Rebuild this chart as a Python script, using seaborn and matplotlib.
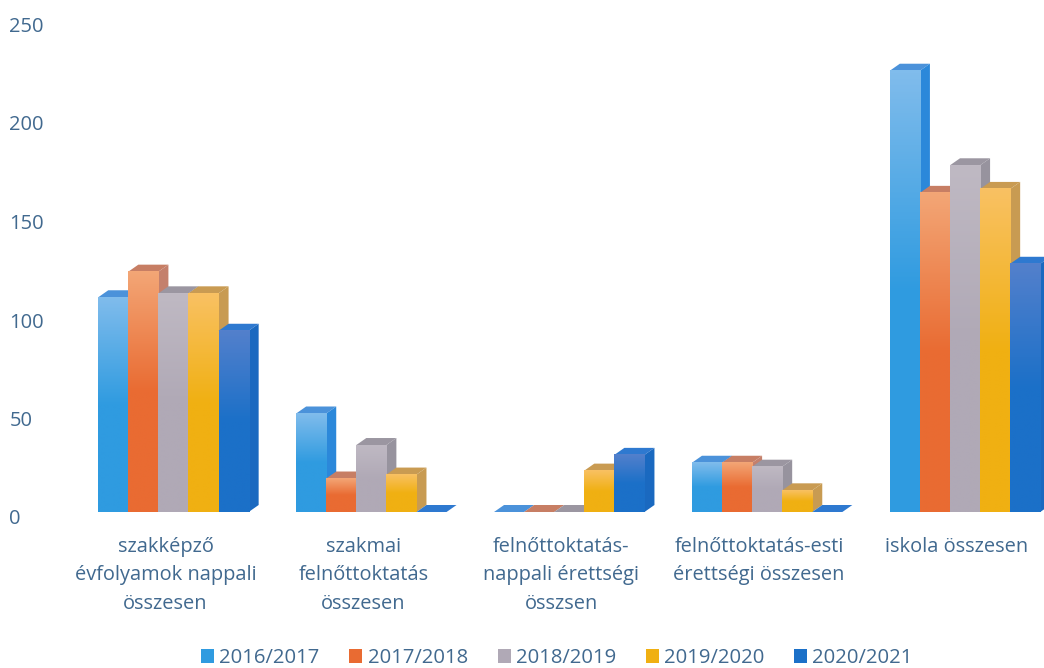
import numpy as np
import pandas as pd
import matplotlib
matplotlib.use("Agg")
import matplotlib.pyplot as plt
from matplotlib.colors import LinearSegmentedColormap
from matplotlib.patches import Polygon, Patch
from matplotlib.transforms import ScaledTranslation
import seaborn as sns

categories = ["szakképző\névfolyamok nappali\nösszesen", "szakmai\nfelnőttoktatás\nösszesen",
              "felnőttoktatás-\nnappali érettségi\nösszsen", "felnőttoktatás-esti\nérettségi összesen",
              "iskola összesen"]
years = ["2016/2017", "2017/2018", "2018/2019", "2019/2020", "2020/2021"]
v2016 = [109, 50, 0, 25, 224]
v2017 = [122, 17, 0, 25, 162]
v2018 = [111, 34, 0, 23, 176]
v2019 = [111, 19, 21, 11, 164]
v2020 = [92, 0, 29, 0, 126]
series = [v2016, v2017, v2018, v2019, v2020]

front_bottom = ["#2f9be0", "#e96b32", "#b0a9b6", "#f0b012", "#1b70c8"]
front_top = ["#80bcec", "#f3a676", "#bfb9c3", "#f9c163", "#5380cc"]
side_col = ["#2b88da", "#c4806c", "#97939e", "#c89b52", "#1a69c0"]
top_col = ["#4b92da", "#c77e64", "#9b96a1", "#c99b52", "#2e79d0"]
text_col = "#41698f"

sns.set_theme(style="white")
plt.rcParams["font.family"] = ["Open Sans", "DejaVu Sans"]

df = pd.DataFrame({
    "cat": np.tile(categories, len(years)),
    "year": np.repeat(years, len(categories)),
    "val": np.concatenate(series),
})

W, H = 1044, 668
fig = plt.figure(figsize=(W / 100, H / 100), dpi=100)
ax = fig.add_axes([74.5 / W, (H - 512) / H, (W - 74.5) / W, 512 / H])

sns.barplot(data=df, x="cat", y="val", hue="year", hue_order=years, order=categories,
            palette=front_bottom, saturation=1, width=0.76, gap=0, legend=False, ax=ax,
            linewidth=0, errorbar=None)

ax.set_xlim(-0.5, 4.3990)
ax.set_ylim(0, 512 / 1.97)
px_x = (ax.get_xlim()[1] - ax.get_xlim()[0]) / (W - 74.5)
px_y = (ax.get_ylim()[1] - ax.get_ylim()[0]) / 512
dx, dy = 10 * px_x, 7 * px_y

for i, container in enumerate(ax.containers):
    cmap = LinearSegmentedColormap.from_list(
        "c", [front_top[i], front_bottom[i], front_bottom[i]])
    for bar in container:
        x0, w, h = bar.get_x(), bar.get_width(), bar.get_height()
        x1 = x0 + w
        ax.add_patch(Polygon([(x0, h), (x1, h), (x1 + dx, h + dy), (x0 + dx, h + dy)],
                             closed=True, fc=top_col[i], ec="none", zorder=2 + i + 0.1))
        if h > 0:
            ax.add_patch(Polygon([(x1, 0), (x1 + dx, dy), (x1 + dx, h + dy), (x1, h)],
                                 closed=True, fc=side_col[i], ec="none", zorder=2 + i + 0.2))
            ax.imshow(np.linspace(0, 1, 128).reshape(-1, 1), cmap=cmap, origin="upper",
                      extent=(x0, x1, 0, h), aspect="auto", zorder=2 + i + 0.5,
                      interpolation="bilinear")
ax.set_xlim(-0.5, 4.3990)
ax.set_ylim(0, 512 / 1.97)
ax.set_aspect("auto")

sns.despine(ax=ax, left=True, bottom=True)
ax.set_xlabel("")
ax.set_ylabel("")
ax.set_yticks([0, 50, 100, 150, 200, 250])
ax.set_xticks(range(5))
ax.set_xticklabels(categories, fontsize=14.4, color=text_col, linespacing=1.56)
ax.tick_params(axis="x", length=0, pad=18)
ax.tick_params(axis="y", length=0, pad=0, labelsize=14.5, labelcolor=text_col)
for lab in ax.get_yticklabels():
    lab.set_ha("left")
    lab.set_transform(ax.get_yaxis_transform()
                      + ScaledTranslation(-65 / 100, -5 / 100, fig.dpi_scale_trans))
    lab.set_x(0)
xshift = ScaledTranslation(-8 / 100, 0, fig.dpi_scale_trans)
for lab in ax.get_xticklabels():
    lab.set_transform(lab.get_transform() + xshift)

handles = [Patch(fc=c, ec="none") for c in front_bottom]
fig.legend(handles, years, loc="center", bbox_to_anchor=(557 / W, (H - 658) / H), ncol=5,
           frameon=False, fontsize=14.6, labelcolor=text_col, handlelength=0.64, handleheight=0.64,
           handletextpad=0.25, columnspacing=1.48, borderpad=0)

fig.savefig("out.png", dpi=100)
